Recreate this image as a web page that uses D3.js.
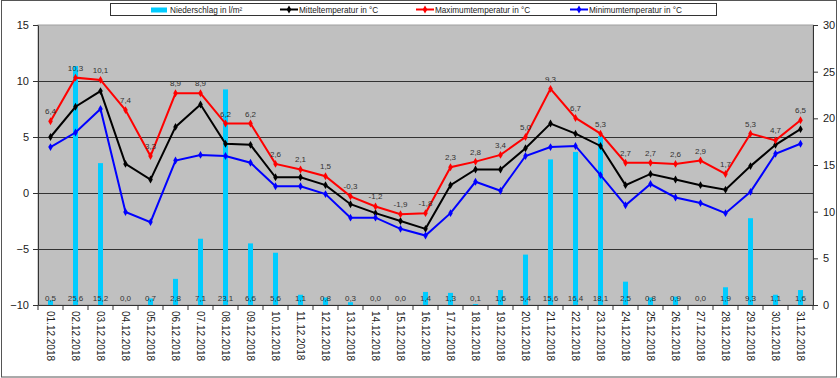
<!DOCTYPE html>
<html>
<head>
<meta charset="utf-8">
<script src="https://cdn.jsdelivr.net/npm/d3@7/dist/d3.min.js"></script>
<style>
  body { margin: 0; background: #fff; }
  svg { display: block; font-family: "Liberation Sans", Arial, sans-serif; }
</style>
</head>
<body>
<div id="chart"></div>
<script>
const days = ["01.12.2018","02.12.2018","03.12.2018","04.12.2018","05.12.2018","06.12.2018","07.12.2018","08.12.2018",
  "09.12.2018","10.12.2018","11.12.2018","12.12.2018","13.12.2018","14.12.2018","15.12.2018","16.12.2018",
  "17.12.2018","18.12.2018","19.12.2018","20.12.2018","21.12.2018","22.12.2018","23.12.2018","24.12.2018",
  "25.12.2018","26.12.2018","27.12.2018","28.12.2018","29.12.2018","30.12.2018","31.12.2018"];
const niederschlag = [0.5, 25.6, 15.2, 0.0, 0.7, 2.8, 7.1, 23.1, 6.6, 5.6, 1.1, 0.8, 0.3, 0.0, 0.0, 1.4,
  1.3, 0.1, 1.6, 5.4, 15.6, 16.4, 18.1, 2.5, 0.8, 0.9, 0.0, 1.9, 9.3, 1.1, 1.6];
const mittel = [5.0, 7.7, 9.1, 2.6, 1.2, 5.9, 7.9, 4.4, 4.3, 1.4, 1.4, 0.7, -1.0, -1.8, -2.5, -3.2,
  0.7, 2.1, 2.1, 4.0, 6.2, 5.3, 4.2, 0.7, 1.7, 1.2, 0.7, 0.3, 2.4, 4.3, 5.7];
const maximum = [6.4, 10.3, 10.1, 7.4, 3.3, 8.9, 8.9, 6.2, 6.2, 2.6, 2.1, 1.5, -0.3, -1.2, -1.9, -1.8,
  2.3, 2.8, 3.4, 5.0, 9.3, 6.7, 5.3, 2.7, 2.7, 2.6, 2.9, 1.7, 5.3, 4.7, 6.5];
const minimum = [4.1, 5.4, 7.5, -1.7, -2.6, 2.9, 3.4, 3.3, 2.7, 0.6, 0.6, -0.1, -2.2, -2.2, -3.2, -3.8,
  -1.8, 1.0, 0.2, 3.3, 4.1, 4.2, 1.6, -1.1, 0.8, -0.4, -0.9, -1.8, 0.1, 3.5, 4.4];
const tempTicks = [-10, -5, 0, 5, 10, 15];
const rainTicks = [0, 5, 10, 15, 20, 25, 30];
const gridTicks = [-5, 0, 5, 10];

const w = 840, h = 378;
const plotLeft = 38, plotRight = 813, plotTop = 25, plotBottom = 305;
const fmt = v => v.toFixed(1).replace(".", ",");

const svg = d3.select("#chart").append("svg").attr("width", w).attr("height", h);

// outer frame
svg.append("rect").attr("x", 1.5).attr("y", 0.5).attr("width", 835).attr("height", 376.5)
  .attr("fill", "#fff").attr("stroke", "#555");

const x = d3.scaleBand().domain(days).range([plotLeft, plotRight]);
const yT = d3.scaleLinear().domain([-10, 15]).range([plotBottom, plotTop]);
const yR = d3.scaleLinear().domain([0, 30]).range([plotBottom, plotTop]);
const cx = d => x(d) + x.bandwidth() / 2;

// plot area
svg.append("rect").attr("x", plotLeft).attr("y", plotTop)
  .attr("width", plotRight - plotLeft).attr("height", plotBottom - plotTop)
  .attr("fill", "#c0c0c0").attr("stroke", "#a0a0a0");

svg.append("g").selectAll("line").data(gridTicks).enter().append("line")
  .attr("x1", plotLeft).attr("x2", plotRight)
  .attr("y1", d => Math.round(yT(d)) + 0.5).attr("y2", d => Math.round(yT(d)) + 0.5)
  .attr("stroke", "#333").attr("stroke-width", 1);

// bars
svg.append("g").selectAll("rect").data(niederschlag).enter().append("rect")
  .attr("x", (d, i) => cx(days[i]) - 2.5)
  .attr("y", d => yR(d))
  .attr("width", 5)
  .attr("height", d => plotBottom - yR(d))
  .attr("fill", "#00ccff");

// axes
function styleAxis(g) {
  g.select(".domain").attr("stroke", "#333");
  g.selectAll(".tick line").attr("stroke", "#333");
  g.selectAll(".tick text").attr("fill", "#222").attr("font-size", "11px")
    .attr("font-family", "Liberation Sans, Arial, sans-serif");
}
svg.append("g").attr("transform", `translate(${plotLeft},0)`)
  .call(d3.axisLeft(yT).tickValues(tempTicks).tickSize(5).tickSizeOuter(0).tickPadding(4))
  .call(styleAxis);
svg.append("g").attr("transform", `translate(${plotRight},0)`)
  .call(d3.axisRight(yR).tickValues(rainTicks).tickSize(5).tickSizeOuter(0).tickPadding(5))
  .call(styleAxis);

const xAxis = svg.append("g").attr("transform", `translate(0,${plotBottom})`)
  .call(d3.axisBottom(x).tickSize(0).tickSizeOuter(0));
xAxis.select(".domain").attr("stroke", "#333");
xAxis.selectAll(".tick text")
  .attr("transform", "rotate(90)")
  .attr("x", 6).attr("y", 0).attr("dy", "0.35em")
  .attr("text-anchor", "start")
  .attr("font-size", "10px").attr("fill", "#222")
  .attr("font-family", "Liberation Sans, Arial, sans-serif");
xAxis.selectAll(".sep").data(d3.range(days.length + 1)).enter().append("line")
  .attr("x1", i => plotLeft + i * x.step()).attr("x2", i => plotLeft + i * x.step())
  .attr("y1", 0).attr("y2", 5).attr("stroke", "#333");

// lines
const series = [
  { values: mittel, color: "#000" },
  { values: maximum, color: "#ff0000" },
  { values: minimum, color: "#0000ff" }
];
const line = d3.line().x((d, i) => cx(days[i])).y(d => yT(d));
const marker = d3.symbol().type(d3.symbolDiamond).size(18);
series.forEach(s => {
  svg.append("path").datum(s.values).attr("d", line)
    .attr("fill", "none").attr("stroke", s.color).attr("stroke-width", 2);
  svg.append("g").selectAll("path").data(s.values).enter().append("path")
    .attr("d", marker)
    .attr("transform", (d, i) => `translate(${cx(days[i])},${yT(d)})`)
    .attr("fill", s.color);
});

// labels
svg.append("g").selectAll("text").data(maximum).enter().append("text")
  .attr("x", (d, i) => cx(days[i]))
  .attr("y", d => yT(d) - 7)
  .attr("text-anchor", "middle")
  .attr("font-size", "8px").attr("fill", "#333")
  .text(d => fmt(d));
svg.append("g").selectAll("text").data(niederschlag).enter().append("text")
  .attr("x", (d, i) => cx(days[i]))
  .attr("y", 301)
  .attr("text-anchor", "middle")
  .attr("font-size", "8px").attr("fill", "#333")
  .text(d => fmt(d));

// legend
const lg = svg.append("g");
lg.append("rect").attr("x", 110.5).attr("y", 3.5).attr("width", 606).attr("height", 12)
  .attr("fill", "#fff").attr("stroke", "#333");
const legendItems = [
  { label: "Niederschlag in l/m²", color: "#00ccff", bar: true, x: 151 },
  { label: "Mitteltemperatur in °C", color: "#000", x: 280 },
  { label: "Maximumtemperatur in °C", color: "#ff0000", x: 416 },
  { label: "Minimumtemperatur in °C", color: "#0000ff", x: 570 }
];
legendItems.forEach(it => {
  if (it.bar) {
    lg.append("rect").attr("x", it.x).attr("y", 7.5).attr("width", 16).attr("height", 5).attr("fill", it.color);
  } else {
    lg.append("line").attr("x1", it.x).attr("x2", it.x + 18).attr("y1", 9.5).attr("y2", 9.5)
      .attr("stroke", it.color).attr("stroke-width", 2);
    lg.append("path").attr("d", marker).attr("transform", `translate(${it.x + 9},9.5)`).attr("fill", it.color);
  }
  lg.append("text").attr("x", it.x + 19).attr("y", 12.5)
    .attr("font-size", "8.2px").attr("fill", "#222").text(it.label);
});
</script>
</body>
</html>
